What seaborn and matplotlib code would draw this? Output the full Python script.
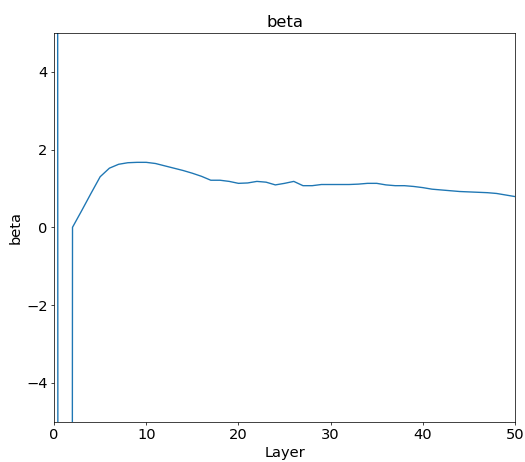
import matplotlib
matplotlib.use("Agg")
import matplotlib.pyplot as plt
import pandas as pd
import seaborn as sns

layers = list(range(51))
beta = [200.0, -300.0, 0.0, 0.43, 0.87, 1.30, 1.52, 1.62, 1.66, 1.67,
        1.67, 1.64, 1.58, 1.52, 1.46, 1.39, 1.31, 1.21, 1.21, 1.18,
        1.13, 1.14, 1.18, 1.16, 1.09, 1.13, 1.18, 1.07, 1.07, 1.10,
        1.10, 1.10, 1.10, 1.11, 1.13, 1.13, 1.09, 1.07, 1.07, 1.05,
        1.02, 0.98, 0.96, 0.94, 0.92, 0.91, 0.90, 0.89, 0.87, 0.83,
        0.79]

df = pd.DataFrame({"Layer": layers, "beta": beta})

# big figure, low dpi -> same pixel size as the original
fig, ax = plt.subplots(figsize=(8, 7.04), dpi=65.625)
sns.lineplot(data=df, x="Layer", y="beta", ax=ax, linewidth=1.5)
ax.set_xlim(0, 50)
ax.set_ylim(-5, 5)
ax.set_title("beta", fontsize=18)
ax.set_xlabel("Layer", fontsize=16)
ax.set_ylabel("beta", fontsize=16)
ax.tick_params(labelsize=16)
fig.subplots_adjust(left=0.103, right=0.981, top=0.929, bottom=0.087)
fig.savefig("out.png", dpi=65.625)
